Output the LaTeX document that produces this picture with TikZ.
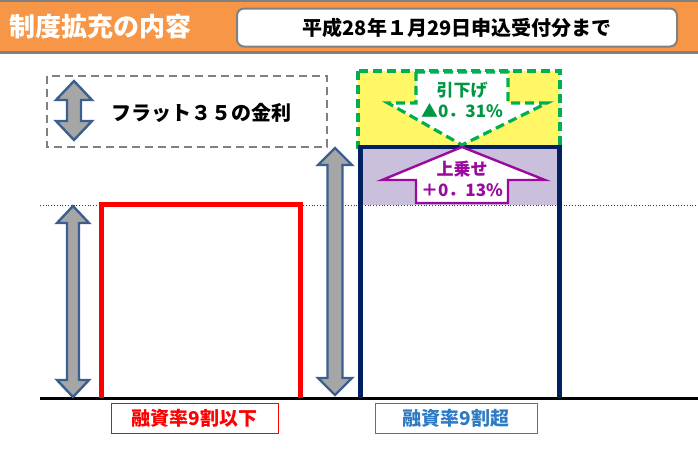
\documentclass[tikz,border=0pt]{standalone}
\usepackage{fontspec}
\setmainfont{Noto Sans CJK JP}
\usetikzlibrary{arrows.meta, calc}
\definecolor{hdrorange}{HTML}{F79646}
\definecolor{arrblue}{HTML}{3B6090}
\definecolor{navy}{HTML}{002060}
\definecolor{ygreen}{HTML}{00B050}
\definecolor{lilac}{HTML}{CBC0DC}
\definecolor{upurple}{HTML}{9A0A9E}
\definecolor{lblue}{HTML}{2E7BC4}
\tikzset{%
    fs/.style={font=\fontsize{#1}{#1}\selectfont\bfseries},
    dblarr/.style={line width=2.4pt, draw=arrblue, fill=black!35, line join=miter},
    lbl/.style={draw, line width=1pt, minimum width=#1, minimum height=30, inner sep=0pt},
    grn/.style={line width=3.2pt, draw=ygreen, dash pattern=on 9pt off 5pt},
}
\begin{document}
\begin{tikzpicture}[x=1pt, y=-1pt]
    \useasboundingbox (0,0) rectangle (698,448);
    % header
    \fill[hdrorange] (0,0) rectangle (698,52);
    \draw[black!50, line width=1.5pt] (0,0.8)--(698,0.8);
    \draw[black!50, line width=3pt] (0,52.5)--(698,52.5);
    \node[fs=26, white, anchor=west] (hdr) at (6,27) {制度拡充の内容};
    \node[fs=20, draw=black!50, line width=2pt, fill=white, rounded corners=7pt,
          minimum width=440, minimum height=38] (date) at (457,27.5) {平成28年１月29日申込受付分まで};
    % legend
    \draw[black!50, line width=1.6pt, dash pattern=on 8pt off 5pt] (47,76) rectangle (327,147);
    \node[fs=20, anchor=west] (leg) at (108,113) {フラット３５の金利};
    % levels
    \fill[yellow!60] (358,71) rectangle (560,147);
    \fill[lilac] (360,147) rectangle (559,205);
    \draw[black!80, dotted, line width=0.8pt] (40,205)--(698,205);
    \draw[line width=3pt] (40,398)--(698,398);
    \draw[grn] (358,71) rectangle (560,147);
    \draw[red, line width=4.5pt] (101.5,398)--(101.5,204.5)--(300.5,204.5)--(300.5,398);
    \draw[navy, line width=4.5pt] (360.5,398)--(360.5,147)--(559.5,147)--(559.5,398);
    % double arrows
    \foreach \c/\t/\b/\s/\h/\l in {74/81/140/7/18/19, 73/206/397/6/16/17, 335/148/395/7.5/17/17}
        \draw[dblarr] (\c,\t)--(\c+\h,\t+\l)--(\c+\s,\t+\l)--(\c+\s,\b-\l)--(\c+\h,\b-\l)--(\c,\b)
            --(\c-\h,\b-\l)--(\c-\s,\b-\l)--(\c-\s,\t+\l)--(\c-\h,\t+\l)--cycle;
    % down and up arrows
    \draw[grn, fill=white, line join=miter] (416,72)--(508,72)--(508,103)--(547,103)--(462,145)
        --(388,103)--(416,103)--cycle;
    \draw[upurple, line width=2.4pt, fill=white] (462,147)--(545,180)--(508,180)--(508,203)
        --(416,203)--(416,180)--(382,180)--cycle;
    \node[fs=17, ygreen!85!black] (dn1) at (462,90) {引下げ};
    \node[fs=17, ygreen!85!black] (dn2) at (462,111) {▲0．31\%};
    \node[fs=17, upurple] (up1) at (462,169) {上乗せ};
    \node[fs=17, upurple] (up2) at (462,190) {＋0．13\%};
    % labels
    \node[lbl=167, draw=red, text=red, fs=19] (lo) at (194.5,418) {融資率9割以下};
    \node[lbl=162, draw=lblue, text=lblue, fs=19] (hi) at (456,418) {融資率9割超};
\end{tikzpicture}
\end{document}
